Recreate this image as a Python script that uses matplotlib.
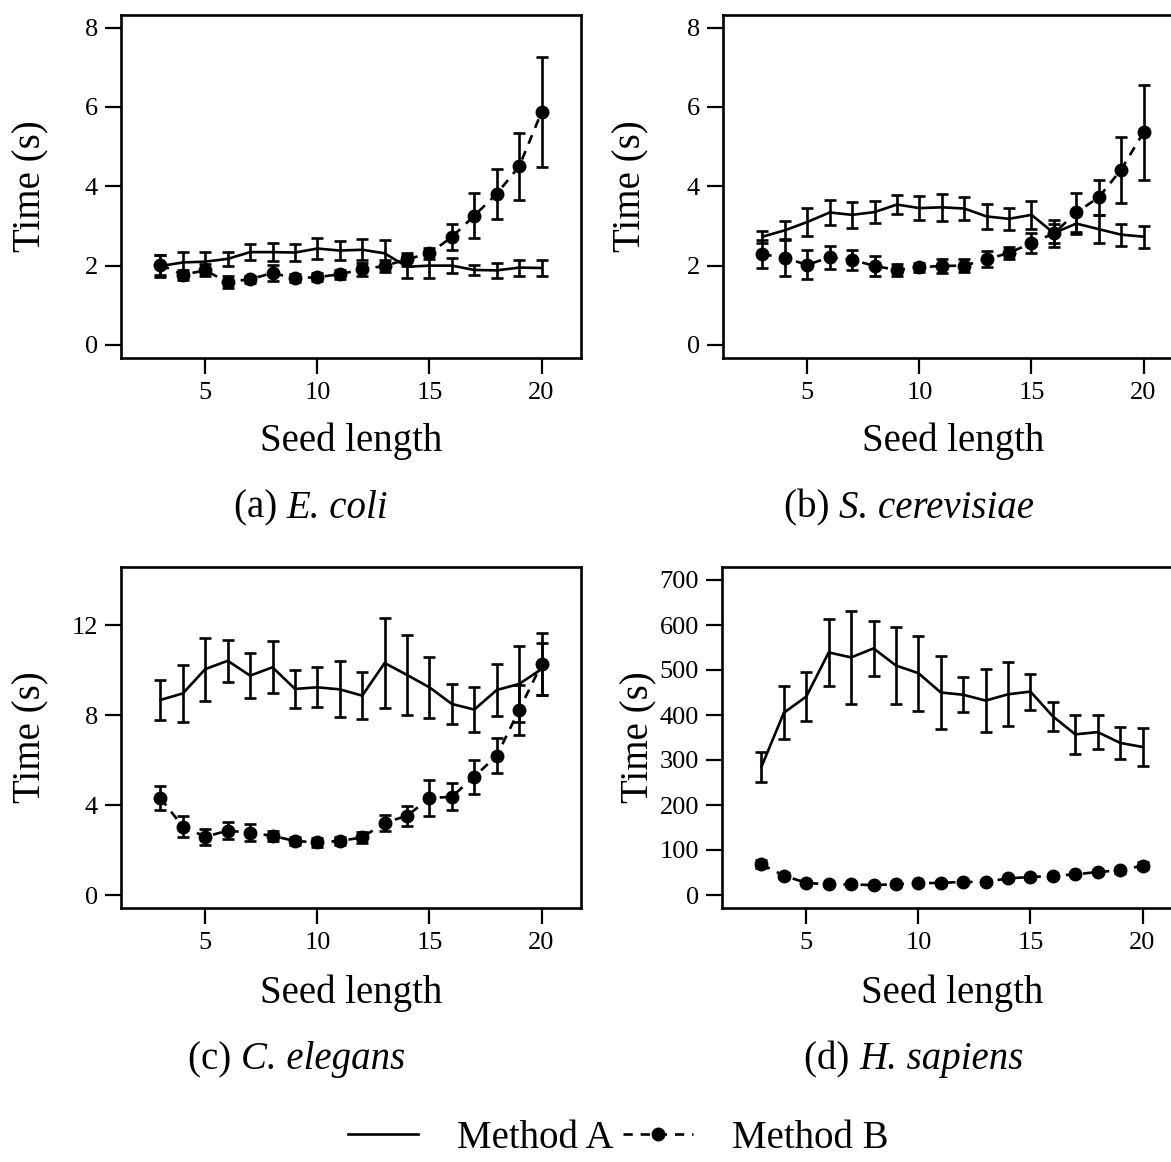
import matplotlib
matplotlib.use("Agg")
import matplotlib.pyplot as plt
from matplotlib.lines import Line2D

plt.rcParams['font.family'] = ['Liberation Serif', 'DejaVu Serif']

# ---------------- data ----------------
seed_length = list(range(3, 21))

ecoli_a = [1.99, 2.08, 2.10, 2.17, 2.34, 2.34, 2.33, 2.43, 2.38, 2.40, 2.31, 1.97, 2.00, 2.00, 1.89, 1.88, 1.95, 1.94]
ecoli_a_err = [0.27, 0.27, 0.25, 0.18, 0.21, 0.23, 0.22, 0.27, 0.25, 0.27, 0.34, 0.29, 0.30, 0.19, 0.13, 0.18, 0.20, 0.19]
ecoli_b = [2.02, 1.77, 1.88, 1.58, 1.66, 1.81, 1.68, 1.71, 1.78, 1.91, 1.99, 2.16, 2.31, 2.72, 3.26, 3.81, 4.50, 5.87]
ecoli_b_err = [0.26, 0.13, 0.15, 0.15, 0.09, 0.20, 0.10, 0.10, 0.11, 0.16, 0.15, 0.17, 0.14, 0.33, 0.56, 0.63, 0.84, 1.39]

scer_a = [2.73, 2.89, 3.10, 3.34, 3.28, 3.35, 3.54, 3.45, 3.47, 3.44, 3.24, 3.18, 3.28, 2.82, 3.06, 2.92, 2.78, 2.73]
scer_a_err = [0.15, 0.23, 0.35, 0.32, 0.32, 0.27, 0.23, 0.31, 0.34, 0.29, 0.32, 0.28, 0.35, 0.34, 0.26, 0.35, 0.28, 0.28]
scer_b = [2.29, 2.19, 2.02, 2.21, 2.15, 1.99, 1.89, 1.96, 1.99, 2.00, 2.16, 2.32, 2.57, 2.81, 3.34, 3.72, 4.42, 5.36]
scer_b_err = [0.35, 0.46, 0.37, 0.29, 0.25, 0.24, 0.14, 0.11, 0.18, 0.17, 0.20, 0.15, 0.24, 0.24, 0.48, 0.44, 0.83, 1.19]

cele_a = [8.67, 8.96, 10.04, 10.41, 9.75, 10.12, 9.16, 9.23, 9.14, 8.86, 10.31, 9.78, 9.23, 8.49, 8.24, 9.11, 9.38, 10.04]
cele_a_err = [0.87, 1.28, 1.40, 0.94, 1.00, 1.15, 0.85, 0.89, 1.24, 1.03, 1.99, 1.78, 1.36, 0.89, 0.99, 1.14, 1.67, 1.14]
cele_b = [4.30, 3.04, 2.59, 2.86, 2.77, 2.63, 2.40, 2.34, 2.40, 2.56, 3.21, 3.52, 4.30, 4.37, 5.26, 6.19, 8.22, 10.25]
cele_b_err = [0.53, 0.46, 0.36, 0.39, 0.37, 0.22, 0.19, 0.19, 0.19, 0.24, 0.35, 0.45, 0.79, 0.59, 0.76, 0.78, 1.11, 1.38]

hsap_a = [285, 405, 441, 539, 528, 548, 510, 493, 450, 445, 432, 446, 452, 397, 357, 362, 338, 329]
hsap_a_err = [33, 59, 54, 75, 104, 62, 85, 83, 81, 39, 70, 71, 40, 33, 44, 38, 36, 42]
hsap_b = [68, 43, 27, 23.5, 23.5, 22, 24, 26, 27, 29, 29, 37, 40, 42, 46, 51, 55, 65]
hsap_b_err = [9, 5, 5, 4, 4, 4, 4, 4, 4, 4, 4, 4, 4, 4, 4, 4, 5, 8]

panel_letters = ["(a)", "(b)", "(c)", "(d)"]
species = ["E. coli", "S. cerevisiae", "C. elegans", "H. sapiens"]
y_limits = [(0, 8), (0, 8), (0, 14), (0, 700)]
y_ticks = [[0, 2, 4, 6, 8], [0, 2, 4, 6, 8], [0, 4, 8, 12], [0, 100, 200, 300, 400, 500, 600, 700]]
x_ticks = [5, 10, 15, 20]
x_limits = (2, 21)
series_names = ["Method A", "Method B"]

data = [
    (ecoli_a, ecoli_a_err, ecoli_b, ecoli_b_err),
    (scer_a, scer_a_err, scer_b, scer_b_err),
    (cele_a, cele_a_err, cele_b, cele_b_err),
    (hsap_a, hsap_a_err, hsap_b, hsap_b_err),
]

# ---------------- layout ----------------
W, H = 1171, 1162
fig = plt.figure(figsize=(W / 100, H / 100), dpi=100)
renderer = fig.canvas.get_renderer()


def fx(px):
    return px / W


def fy(py):
    return 1 - py / H


# axes boxes in pixels: (left, top, right, bottom)
boxes = [(121, 15, 581, 357.6), (723, 15, 1183, 357.6),
         (121, 567.4, 581, 907.6), (722, 567.4, 1182, 907.6)]
ylabel_x = [31, 631, 31, 639]
caption_pos = [(311, 508), (909, 508), (297, 1060), (914, 1060)]
xlabel_y = [441, 441, 993, 993]

FS_BIG = 28
FS_TICK = 19
LW = 1.9
DASH = (0, (3.5, 3.0))


def pad4(lo, hi):
    d = (hi - lo) * 0.04
    return lo - d, hi + d


for i in range(4):
    l, t, r, b = boxes[i]
    ax = fig.add_axes([fx(l), fy(b), fx(r) - fx(l), fy(t) - fy(b)])
    a, aerr, bb, berr = data[i]
    ax.errorbar(seed_length, a, yerr=aerr, color='black', lw=LW,
                elinewidth=LW, capsize=4.6, capthick=LW)
    hb = ax.errorbar(seed_length, bb, yerr=berr, color='black', lw=LW,
                     linestyle=DASH, marker='o', ms=9,
                     elinewidth=LW, capsize=4.6, capthick=LW)
    hb[2][0].set_linestyle('-')
    ax.set_xlim(*pad4(*x_limits))
    ax.set_ylim(*pad4(*y_limits[i]))
    ax.set_xticks(x_ticks)
    ax.set_yticks(y_ticks[i])
    ax.tick_params(axis='both', direction='out', length=11.5, width=1.6,
                   labelsize=FS_TICK)
    ax.tick_params(axis='x', pad=6)
    ax.tick_params(axis='y', pad=5)
    for s in ax.spines.values():
        s.set_linewidth(1.9)
    fig.text(fx(ylabel_x[i]), fy((t + b) / 2), "Time (s)", rotation=90,
             ha='center', va='center', fontsize=FS_BIG)
    fig.text(fx(l + 230), fy(xlabel_y[i]),
             "Seed length", ha='center', va='center', fontsize=FS_BIG)

    # caption: upright letter + italic species name, centred as a whole
    cx, cy = caption_pos[i]
    t1 = fig.text(0, fy(cy), panel_letters[i] + " ", ha='left', va='center',
                  fontsize=FS_BIG)
    t2 = fig.text(0, fy(cy), species[i], ha='left', va='center',
                  fontsize=FS_BIG, style='italic')
    w1 = t1.get_window_extent(renderer).width
    w2 = t2.get_window_extent(renderer).width
    x0 = cx - (w1 + w2) / 2
    t1.set_x(fx(x0))
    t2.set_x(fx(x0 + w1))

h_a = Line2D([], [], color='black', lw=LW)
h_b = Line2D([], [], color='black', lw=LW, linestyle=DASH, marker='o', ms=9)
fig.legend([h_a, h_b], series_names, loc='center',
           bbox_to_anchor=(fx(618), fy(1138)), ncol=2, frameon=False,
           fontsize=FS_BIG, handlelength=1.8, handletextpad=1.0,
           columnspacing=0.25, borderpad=0)

fig.savefig("out.png", dpi=100)
